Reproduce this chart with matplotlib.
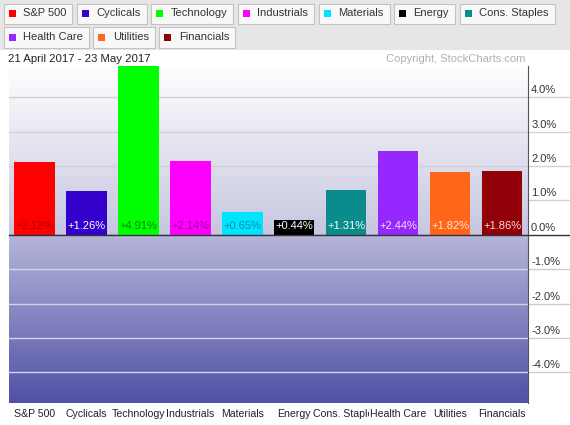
import numpy as np
import matplotlib.pyplot as plt
from matplotlib.patches import Rectangle

plt.rcParams['font.family'] = ['Liberation Sans', 'DejaVu Sans']

sectors = ["S&P 500", "Cyclicals", "Technology", "Industrials", "Materials",
           "Energy", "Cons. Staples", "Health Care", "Utilities", "Financials"]
changes = [2.12, 1.26, 4.91, 2.14, 0.65, 0.44, 1.31, 2.44, 1.82, 1.86]
colors = ["#ff0000", "#3300cc", "#00ff00", "#ff00ff", "#00e5ff",
          "#000000", "#0a8c8c", "#9628ff", "#ff6619", "#920008"]
text_colors = ["#b00000", "#ffffff", "#008a00", "#a000a0", "#0a8aa8",
               "#ffffff", "#ffffff", "#f0e0ff", "#ffe8d0", "#ffd8d8"]
yticks = [-4, -3, -2, -1, 0, 1, 2, 3, 4]
period = "21 April 2017 - 23 May 2017"
credit = "Copyright, StockCharts.com"

W, H = 570, 425
fig = plt.figure(figsize=(W / 100, H / 100), dpi=100)
fig.patch.set_facecolor("white")

# plot area in pixels
left, right, top, bottom = 8.5, 528, 66, 403.3
ax = fig.add_axes([left / W, 1 - bottom / H, (right - left) / W, (bottom - top) / H])
ymin, ymax = -4.9, 4.91
ax.set_xlim(-0.5, 9.5)
ax.set_ylim(ymin, ymax)

# background gradient
yy = np.linspace(ymax, ymin, 500)
c_top = np.array([255, 255, 255]) / 255
c_mid = np.array([0xc6, 0xc6, 0xe0]) / 255
c_low = np.array([0xb6, 0xb6, 0xda]) / 255
c_bot = np.array([0x50, 0x50, 0xa6]) / 255
grad = np.zeros((len(yy), 1, 3))
for k, y in enumerate(yy):
    if y >= 0:
        f = 1 - y / ymax
        grad[k, 0] = c_top + (c_mid - c_top) * f
    else:
        f = y / ymin
        grad[k, 0] = c_low + (c_bot - c_low) * f
ax.imshow(grad, extent=[-0.5, 9.5, ymin, ymax], aspect="auto", zorder=0)

x = np.arange(len(sectors))
ax.bar(x, changes, width=0.78, color=colors, zorder=3)
for i, v in enumerate(changes):
    ax.text(i, 0.1, f"+{v:.2f}%", ha="center", va="bottom", fontsize=8,
            color=text_colors[i], zorder=4)

# grid lines, extending into the right margin
xt = ax.get_yaxis_transform()
margin = 1 + (W - right) / (right - left)
for t in yticks:
    if t == 0:
        ax.plot([0, margin], [0, 0], transform=xt, color="#333333", lw=1,
                clip_on=False, zorder=5)
    elif t > 0:
        ax.plot([0, margin], [t, t], transform=xt, color="#d2d2d2", lw=1,
                clip_on=False, zorder=1)
    else:
        ax.plot([0, 1], [t, t], transform=xt, color="#d4d4ee", lw=1, zorder=1)
        ax.plot([1, margin], [t, t], transform=xt, color="#cccccc", lw=1,
                clip_on=False, zorder=1)
    ax.text(1.006, t + 0.06, f"{t:.1f}%", transform=xt, ha="left", va="bottom",
            fontsize=8, color="#333333")

for s in ["left", "top", "bottom"]:
    ax.spines[s].set_visible(False)
ax.spines["right"].set_color("#555555")
ax.set_yticks([])
ax.set_xticks(x)
ax.set_xticklabels(sectors, fontsize=7.6, color="#222222")
for lab in ax.get_xticklabels():
    lab.set_bbox(dict(facecolor="white", edgecolor="none", pad=0.6))
ax.tick_params(axis="x", length=0, pad=4)

# header with legend buttons
fig.add_artist(Rectangle((0, 1 - 50 / H), 1, 50 / H, transform=fig.transFigure,
                         facecolor="#e6e6e6", edgecolor="none", zorder=0))
renderer = fig.canvas.get_renderer()
bx, by, bh = 3.5, 3.5, 20
for name, col in zip(sectors, colors):
    t = fig.text(0, 0, name, fontsize=8, color="#333333", va="center")
    tw = t.get_window_extent(renderer).width
    bw = 19.5 + tw + 6
    if bx + bw > W - 4:
        bx = 3.5
        by += 24
    fig.add_artist(Rectangle((bx / W, 1 - (by + bh) / H), bw / W, bh / H,
                             transform=fig.transFigure, facecolor="#f8f8f8",
                             edgecolor="#c2c2c2", lw=0.8, zorder=1))
    fig.add_artist(Rectangle(((bx + 5) / W, 1 - (by + bh / 2 + 3.5) / H), 7 / W, 7 / H,
                             transform=fig.transFigure, facecolor=col,
                             edgecolor="none", zorder=2))
    t.set_position(((bx + 19.5) / W, 1 - (by + bh / 2) / H))
    t.set_zorder(3)
    bx += bw + 4.5

fig.text(8.3 / W, 1 - 59 / H, period, fontsize=8.2, color="#222222", va="center")
fig.text(525 / W, 1 - 59 / H, credit, fontsize=8, color="#b0b0b0", va="center", ha="right")

fig.savefig("out.png", dpi=100)
